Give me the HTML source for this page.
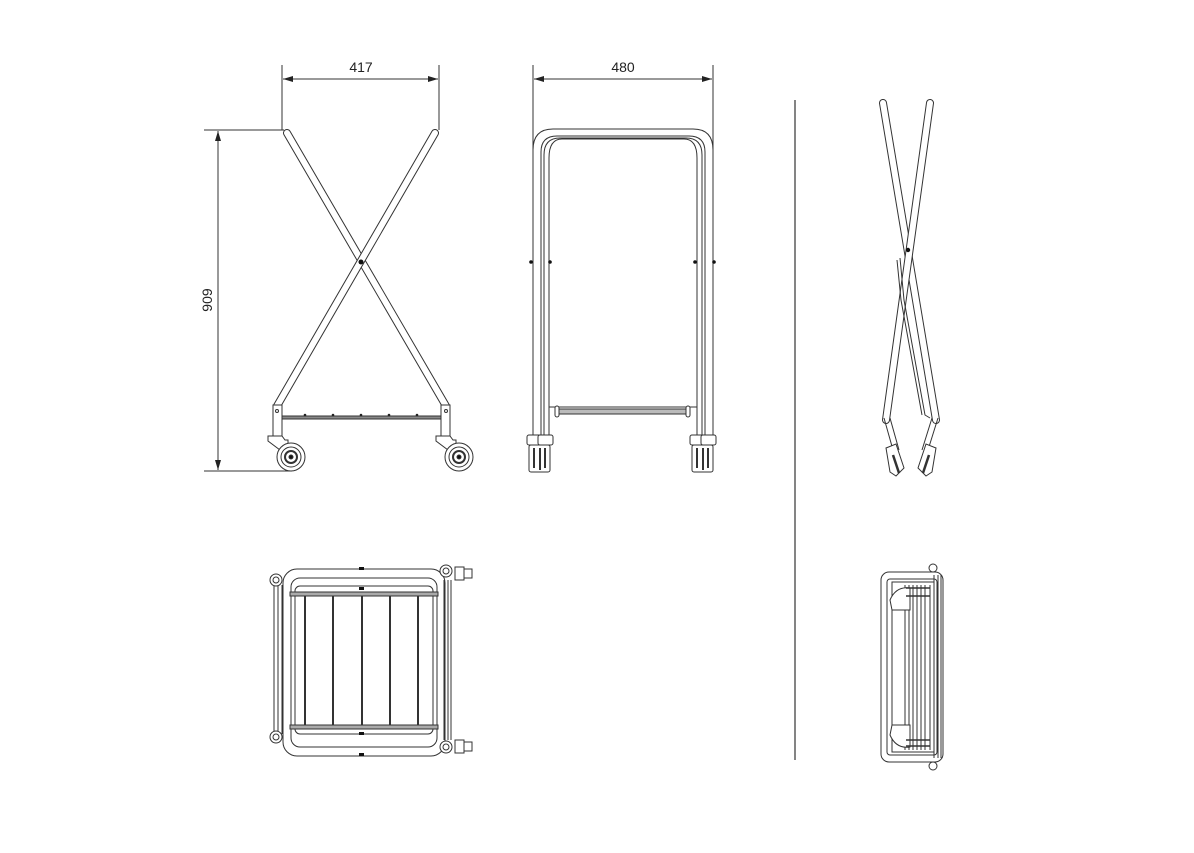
<!DOCTYPE html>
<html><head><meta charset="utf-8"><style>
html,body{margin:0;padding:0;background:#fff}
svg{display:block}
text{font-family:"Liberation Sans",sans-serif;font-size:14px;fill:#222}
</style></head><body>
<svg width="1194" height="853" viewBox="0 0 1194 853" xmlns="http://www.w3.org/2000/svg">
<defs>
<marker id="ar" viewBox="0 0 10 6" refX="10" refY="3" markerWidth="10" markerHeight="6" orient="auto-start-reverse"><path d="M0,0 L10,3 L0,6 z" fill="#222"/></marker>
</defs>
<g stroke="#333" fill="none" stroke-width="1">
<line x1="282" y1="65" x2="282" y2="130"/>
<line x1="439" y1="65" x2="439" y2="130"/>
<line x1="283" y1="79" x2="438" y2="79" marker-start="url(#ar)" marker-end="url(#ar)"/>
<line x1="204" y1="130" x2="284" y2="130"/>
<line x1="204" y1="471" x2="292" y2="471"/>
<line x1="218" y1="131" x2="218" y2="470" marker-start="url(#ar)" marker-end="url(#ar)"/>
</g>
<text x="361" y="72" text-anchor="middle">417</text>
<text x="623" y="72" text-anchor="middle">480</text>
<text x="212" y="300" text-anchor="middle" transform="rotate(-90 212 300)">909</text>

<g stroke-linecap="round">
<line x1="287" y1="133" x2="446" y2="406" stroke="#333" stroke-width="8"/>
<line x1="287" y1="133" x2="446" y2="406" stroke="#fff" stroke-width="6"/>
<line x1="435" y1="133" x2="277" y2="406" stroke="#333" stroke-width="8"/>
<line x1="435" y1="133" x2="277" y2="406" stroke="#fff" stroke-width="6"/>
</g>
<circle cx="361" cy="262" r="2.5" fill="#111"/>
<g stroke="#333" fill="#fff" stroke-width="1">
<rect x="273" y="405" width="9" height="33"/>
<rect x="441" y="405" width="9" height="33"/>
<rect x="282" y="416" width="159" height="3" fill="#888"/>
<circle cx="277" cy="411" r="1.5"/>
<circle cx="446" cy="411" r="1.5"/>
<path d="M268,436 h14 l3,4 h3 v6 l8,4 -8,6 -20,-15z"/>
<path d="M436,436 h14 l3,4 h3 v6 l8,4 -8,6 -20,-15z"/>
<circle cx="291" cy="457" r="14"/><circle cx="291" cy="457" r="10"/><circle cx="291" cy="457" r="6" stroke-width="2"/><circle cx="291" cy="457" r="2" fill="#111"/>
<circle cx="459" cy="457" r="14"/><circle cx="459" cy="457" r="10"/><circle cx="459" cy="457" r="6" stroke-width="2"/><circle cx="459" cy="457" r="2" fill="#111"/>
</g>
<g fill="#222"><circle cx="305" cy="415" r="1.3"/><circle cx="333" cy="415" r="1.3"/><circle cx="361" cy="415" r="1.3"/><circle cx="389" cy="415" r="1.3"/><circle cx="417" cy="415" r="1.3"/></g>

<g stroke="#333" fill="none" stroke-width="1">
<line x1="533" y1="65" x2="533" y2="150"/>
<line x1="713" y1="65" x2="713" y2="150"/>
<line x1="534" y1="79" x2="712" y2="79" marker-start="url(#ar)" marker-end="url(#ar)"/>
<path d="M533,440 V150 Q533,129 553,129 H693 Q713,129 713,150 V440"/>
<path d="M541,440 V152 Q541,136 557,136 H689 Q705,136 705,152 V440"/>
<path d="M544,440 V155 Q544,138 560,138 H686 Q702,138 702,155 V440"/>
<path d="M549,440 V158 Q549,139 562,139 H684 Q697,139 697,158 V440"/>
<line x1="549" y1="407" x2="697" y2="407"/>
<rect x="556" y="409" width="134" height="5" fill="#bbb"/>
<rect x="555" y="406" width="4" height="11" rx="2" fill="#fff"/>
<rect x="686" y="406" width="4" height="11" rx="2" fill="#fff"/>
<rect x="527" y="435" width="15" height="10" rx="2" fill="#fff"/>
<rect x="538" y="435" width="15" height="10" rx="2" fill="#fff"/>
<rect x="529" y="445" width="21" height="27" rx="2" fill="#fff"/>
<path d="M534,448 v20 M540,448 v22 M545,448 v20" stroke-width="2"/>
<rect x="690" y="435" width="15" height="10" rx="2" fill="#fff"/>
<rect x="701" y="435" width="15" height="10" rx="2" fill="#fff"/>
<rect x="692" y="445" width="21" height="27" rx="2" fill="#fff"/>
<path d="M697,448 v20 M703,448 v22 M708,448 v20" stroke-width="2"/>
</g>
<g fill="#111"><circle cx="531" cy="262" r="1.8"/><circle cx="550" cy="262" r="1.8"/><circle cx="695" cy="262" r="1.8"/><circle cx="714" cy="262" r="1.8"/></g>

<line x1="795" y1="100" x2="795" y2="760" stroke="#333" stroke-width="1.2"/>

<g stroke-linecap="round">
<line x1="883" y1="103" x2="936" y2="420" stroke="#333" stroke-width="8"/>
<line x1="883" y1="103" x2="936" y2="420" stroke="#fff" stroke-width="6"/>
<line x1="930" y1="103" x2="886" y2="420" stroke="#333" stroke-width="8"/>
<line x1="930" y1="103" x2="886" y2="420" stroke="#fff" stroke-width="6"/>
</g>
<g stroke="#333" fill="none" stroke-width="1">
<path d="M900,258 L904,300 L925,415 L930,418"/>
<path d="M897,260 L901,300 L922,415"/>
<path d="M884,418 L893,450 M890,418 L899,450 M938,418 L928,450 M932,418 L922,450"/>
<path d="M886,448 l10,-4 8,24 -8,8 -6,-4z" fill="#fff"/>
<path d="M936,448 l-10,-4 -8,24 8,8 6,-4z" fill="#fff"/>
<path d="M893,455 l6,18 M929,455 l-6,18" stroke-width="2.5"/>
</g>
<circle cx="908" cy="250" r="2.2" fill="#111"/>

<g stroke="#333" fill="none" stroke-width="1">
<rect x="283" y="569" width="162" height="187" rx="14"/>
<rect x="291" y="578" width="146" height="169" rx="9"/>
<rect x="295" y="586" width="138" height="148" rx="5"/>
<rect x="290" y="592" width="148" height="4" fill="#aaa"/>
<rect x="290" y="725" width="148" height="4" fill="#aaa"/>
<path d="M305,596V725 M333,596V725 M362,596V725 M390,596V725 M418,596V725" stroke-width="2"/>
<path d="M274,585V734 M278,585V734 M282,585V734 M444,580V740 M448,580V740 M451,580V740"/>
<circle cx="276" cy="580" r="6" fill="#fff"/><circle cx="276" cy="580" r="3"/>
<circle cx="276" cy="737" r="6" fill="#fff"/><circle cx="276" cy="737" r="3"/>
<circle cx="446" cy="571" r="6" fill="#fff"/><circle cx="446" cy="571" r="3"/>
<circle cx="446" cy="747" r="6" fill="#fff"/><circle cx="446" cy="747" r="3"/>
<rect x="455" y="567" width="9" height="13" fill="#fff"/><rect x="464" y="569" width="8" height="9" fill="#fff"/>
<rect x="455" y="740" width="9" height="13" fill="#fff"/><rect x="464" y="742" width="8" height="9" fill="#fff"/>
</g>
<g fill="#111"><rect x="359" y="567" width="5" height="3"/><rect x="359" y="587" width="5" height="3"/><rect x="359" y="732" width="5" height="3"/><rect x="359" y="753" width="5" height="3"/></g>

<g stroke="#333" fill="none" stroke-width="1">
<rect x="881" y="572" width="62" height="190" rx="8"/>
<rect x="887" y="579" width="50" height="176" rx="3"/>
<rect x="892" y="582" width="42" height="170"/>
<path d="M905,585V750 M909,585V750 M913,585V750 M917,585V750 M921,585V750 M925,585V750 M930,585V750" />
<path d="M934,575V758 M938,575V758 M941,575V758"/>
<path d="M890,600 q6,-14 20,-12 v22 h-18z M890,735 q6,14 20,12 v-22 h-18z" fill="#fff"/>
<path d="M906,588h24 M906,596h24 M906,740h24 M906,746h24" stroke-width="1.5"/>
<circle cx="933" cy="568" r="4" fill="#fff"/><circle cx="933" cy="766" r="4" fill="#fff"/>
</g>
</svg>
</body></html>
